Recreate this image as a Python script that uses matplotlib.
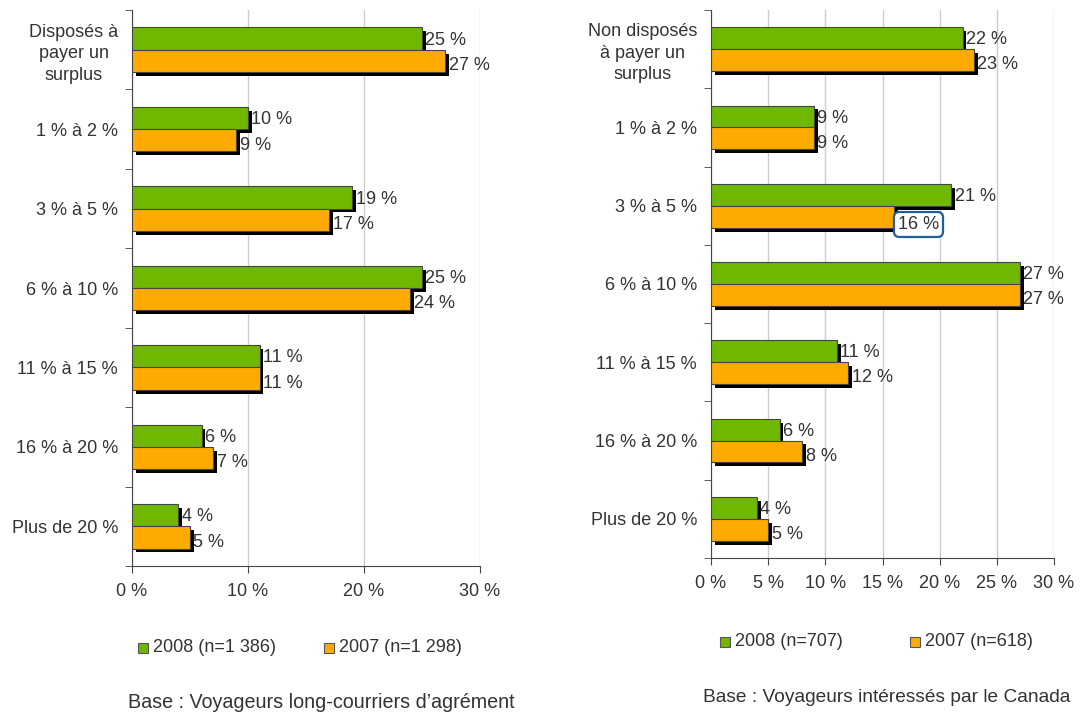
import matplotlib
matplotlib.use("Agg")
import matplotlib.pyplot as plt
import matplotlib.patheffects as pe

plt.rcParams['font.family'] = ['Liberation Sans', 'DejaVu Sans']

left_categories = ["Disposés à\npayer un\nsurplus", "1 % à 2 %", "3 % à 5 %", "6 % à 10 %",
                   "11 % à 15 %", "16 % à 20 %", "Plus de 20 %"]
left_2008 = [25, 10, 19, 25, 11, 6, 4]
left_2007 = [27, 9, 17, 24, 11, 7, 5]
left_legend = ["2008 (n=1 386)", "2007 (n=1 298)"]
left_ticks = [0, 10, 20, 30]
left_base = "Base : Voyageurs long-courriers d\u2019agrément"

right_categories = ["Non disposés\nà payer un\nsurplus", "1 % à 2 %", "3 % à 5 %", "6 % à 10 %",
                    "11 % à 15 %", "16 % à 20 %", "Plus de 20 %"]
right_2008 = [22, 9, 21, 27, 11, 6, 4]
right_2007 = [23, 9, 16, 27, 12, 8, 5]
right_legend = ["2008 (n=707)", "2007 (n=618)"]
right_ticks = [0, 5, 10, 15, 20, 25, 30]
right_base = "Base : Voyageurs intéressés par le Canada"

GREEN = "#70B800"
ORANGE = "#FFAA00"
TEXT = "#333333"
BAR_H = 0.28
FS = 13

shadow = [pe.SimplePatchShadow(offset=(2.8, -2.8), shadow_rgbFace="black", alpha=1.0), pe.Normal()]

fig = plt.figure(figsize=(10.8, 7.15), dpi=100)


def draw_panel(rect, cats, v08, v07, ticks, highlight=None):
    ax = fig.add_axes(rect)
    n = len(cats)
    ys = list(range(n))
    b1 = ax.barh([y - BAR_H / 2 for y in ys], v08, height=BAR_H, color=GREEN,
                 edgecolor="#444444", linewidth=0.8, zorder=3)
    b2 = ax.barh([y + BAR_H / 2 for y in ys], v07, height=BAR_H, color=ORANGE,
                 edgecolor="#444444", linewidth=0.8, zorder=3)
    for bars in (b1, b2):
        for b in bars:
            b.set_path_effects(shadow)
    ax.set_xlim(0, 30)
    ax.set_ylim(n - 0.5, -0.5)
    ax.set_xticks(ticks)
    ax.set_xticklabels([f"{t} %" for t in ticks], fontsize=FS, color=TEXT)
    ax.xaxis.grid(True, color="#CCCCCC", linewidth=1, zorder=0)
    ax.set_axisbelow(True)
    ax.tick_params(axis='x', length=5, color="#444444", pad=7)
    # category labels centred, tick marks between the groups
    ax.set_yticks(ys)
    ax.set_yticklabels(cats, fontsize=FS, color=TEXT, multialignment="center",
                       linespacing=1.35)
    ax.tick_params(axis='y', length=0, pad=10)
    ax.set_yticks([y + 0.5 for y in range(-1, n)], minor=True)
    ax.tick_params(axis='y', which='minor', length=5, color="#444444")
    for s in ("top", "right"):
        ax.spines[s].set_visible(False)
    for s in ("left", "bottom"):
        ax.spines[s].set_color("#444444")
    for i, (a, b) in enumerate(zip(v08, v07)):
        ax.text(a + 0.3, i - BAR_H / 2 + 0.02, f"{a} %", va="center", ha="left",
                fontsize=FS, color=TEXT, zorder=5)
        if highlight == i:
            ax.text(b + 0.35, i + BAR_H / 2 + 0.1, f"{b} %", va="center", ha="left",
                    fontsize=FS, color=TEXT, zorder=5,
                    bbox=dict(boxstyle="round,pad=0.22,rounding_size=0.3", fc="white",
                              ec="#1F5F9A", lw=1.6))
        else:
            ax.text(b + 0.3, i + BAR_H / 2 + 0.06, f"{b} %", va="center", ha="left",
                    fontsize=FS, color=TEXT, zorder=5)
    return ax


ax1 = draw_panel([132 / 1080, 1 - 566 / 715, 348 / 1080, 556 / 715],
                 left_categories, left_2008, left_2007, left_ticks)
ax2 = draw_panel([711 / 1080, 1 - 558 / 715, 343 / 1080, 548 / 715],
                 right_categories, right_2008, right_2007, right_ticks, highlight=2)

for labels, y, x0, gap in ((left_legend, 648, 138, 186),
                           (right_legend, 642, 720, 190)):
    for k, (lab, col) in enumerate(zip(labels, (GREEN, ORANGE))):
        xf = (x0 + k * gap) / 1080
        yf = 1 - y / 715
        fig.patches.append(plt.Rectangle((xf, yf - 0.007), 10 / 1080, 10 / 715,
                                         transform=fig.transFigure, fc=col,
                                         ec="#555555", lw=0.8))
        fig.text(xf + 15 / 1080, yf, lab, va="center", ha="left", fontsize=FS, color=TEXT)

fig.text(321 / 1080, 1 - 703 / 715, left_base, ha="center", va="center", fontsize=14.2, color=TEXT)
fig.text(703 / 1080, 1 - 697 / 715, right_base, ha="left", va="center", fontsize=13.8, color=TEXT)

fig.savefig("out.png", dpi=100)
